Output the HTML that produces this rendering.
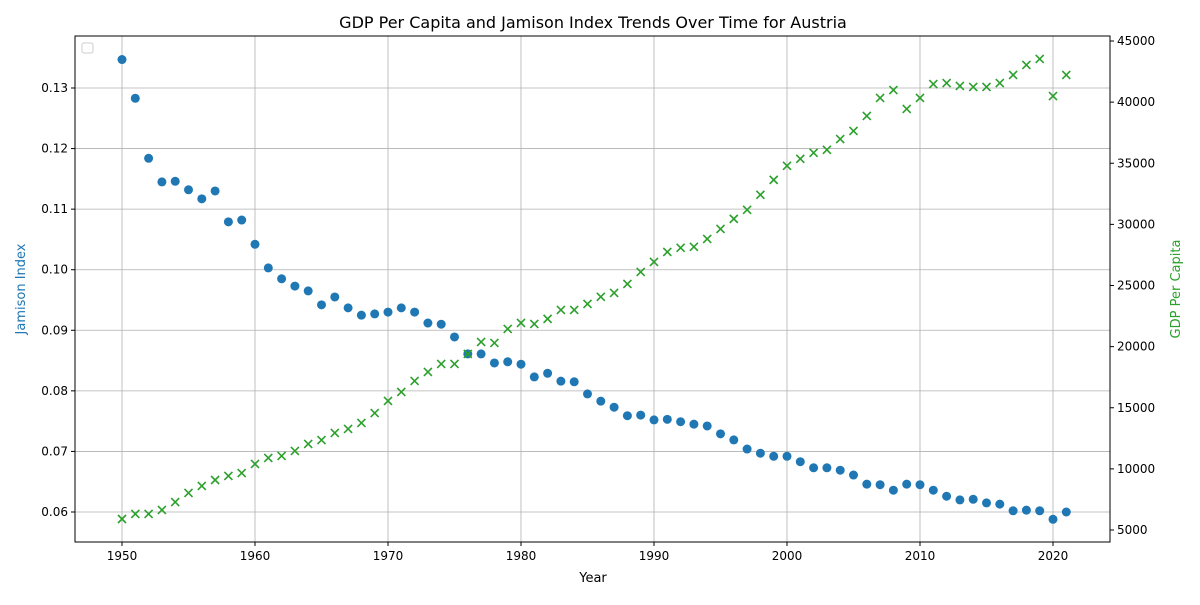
<!DOCTYPE html>
<html><head><meta charset="utf-8"><style>
body{margin:0;background:#fff;font-family:"Liberation Sans","DejaVu Sans",sans-serif;}
svg text{font-family:"DejaVu Sans","Liberation Sans",sans-serif;}
</style></head><body>
<svg id="chart" width="1200" height="600" xmlns="http://www.w3.org/2000/svg"></svg>
<script>
const years = [];
for (let y = 1950; y <= 2021; y++) years.push(y);
const jamison = [0.1347,0.1283,0.1184,0.1145,0.1146,0.1132,0.1117,0.1130,0.1079,0.1082,0.1042,0.1003,0.0985,0.0973,0.0965,0.0942,0.0955,0.0937,0.0925,0.0927,0.0930,0.0937,0.0930,0.0912,0.0910,0.0889,0.0861,0.0861,0.0846,0.0848,0.0844,0.0823,0.0829,0.0816,0.0815,0.0795,0.0783,0.0773,0.0759,0.0760,0.0752,0.0753,0.0749,0.0745,0.0742,0.0729,0.0719,0.0704,0.0697,0.0692,0.0692,0.0683,0.0673,0.0673,0.0669,0.0661,0.0646,0.0645,0.0636,0.0646,0.0645,0.0636,0.0626,0.0620,0.0621,0.0615,0.0613,0.0602,0.0603,0.0602,0.0588,0.0600];
const gdp = [5900,6310,6310,6640,7290,8030,8600,9090,9420,9660,10400,10890,11060,11470,12040,12360,12940,13270,13760,14570,15560,16290,17190,17930,18580,18580,19400,20380,20300,21450,21940,21860,22270,23000,23000,23490,24070,24390,25130,26110,26930,27750,28080,28160,28810,29630,30450,31190,32420,33640,34790,35360,35850,36100,36980,37640,38870,40340,40990,39440,40340,41480,41560,41320,41240,41240,41560,42220,43040,43530,40500,42220];
const xTicks = [1950,1960,1970,1980,1990,2000,2010,2020];
const leftTicks = [0.06,0.07,0.08,0.09,0.10,0.11,0.12,0.13];
const rightTicks = [5000,10000,15000,20000,25000,30000,35000,40000,45000];

const L=75,R=1110,T=36,B=542;
const xs = v => 122 + (v-1950)*(1053-122)/70;
const yl = v => 512 - (v-0.06)*(512-88)/0.07;
const yr = v => 530 - (v-5000)*(530-41)/40000;
const svg = document.getElementById('chart');
const NS='http://www.w3.org/2000/svg';
function el(tag, attrs, parent){const e=document.createElementNS(NS,tag);for(const k in attrs)e.setAttribute(k,attrs[k]);(parent||svg).appendChild(e);return e;}
function txt(s, attrs){const e=el('text',attrs);e.textContent=s;return e;}

// grid
xTicks.forEach(t=>{
  const g=el('line',{x1:xs(t),x2:xs(t),y1:T,y2:B,stroke:'#b0b0b0','stroke-width':0.8});
  
  
});
leftTicks.forEach(t=>{
  const g=el('line',{x1:L,x2:R,y1:yl(t),y2:yl(t),stroke:'#b0b0b0','stroke-width':0.8});
  
  
});

// jamison points
years.forEach((y,i)=>{
  const c=el('circle',{cx:xs(y),cy:yl(jamison[i]),r:4.5,fill:'#1f77b4'});
  
  
});
// gdp x markers
years.forEach((y,i)=>{
  const cx=xs(y), cy=yr(gdp[i]), d=4;
  const p=el('path',{d:`M${cx-d},${cy-d}L${cx+d},${cy+d}M${cx-d},${cy+d}L${cx+d},${cy-d}`,stroke:'#2ca02c','stroke-width':1.6,fill:'none'});
  
  
});

// frame
const fr=el('rect',{x:L,y:T,width:R-L,height:B-T,fill:'none',stroke:'#000','stroke-width':1});



// ticks
xTicks.forEach(t=>{
  el('line',{x1:xs(t),x2:xs(t),y1:B,y2:B+4,stroke:'#000'});
  const l=txt(t,{x:xs(t),y:B+18,'font-size':12,'text-anchor':'middle'});
  
  
});
leftTicks.forEach(t=>{
  el('line',{x1:L-4,x2:L,y1:yl(t),y2:yl(t),stroke:'#000'});
  const l=txt(t.toFixed(2),{x:L-7,y:yl(t)+4,'font-size':12,'text-anchor':'end'});
  
  
});
rightTicks.forEach(t=>{
  el('line',{x1:R,x2:R+4,y1:yr(t),y2:yr(t),stroke:'#000'});
  const l=txt(t,{x:R+7,y:yr(t)+4,'font-size':12,'text-anchor':'start'});
  
  
});
</script>
<svg width="1200" height="600" style="position:absolute;left:0;top:0" xmlns="http://www.w3.org/2000/svg">
<text x="593" y="28" font-size="16" text-anchor="middle">GDP Per Capita and Jamison Index Trends Over Time for Austria</text>
<text x="593" y="582" font-size="13" text-anchor="middle">Year</text>
<text transform="translate(25,289) rotate(-90)" font-size="13" fill="#1f77b4" text-anchor="middle">Jamison Index</text>
<text transform="translate(1180,289) rotate(-90)" font-size="13" fill="#2ca02c" text-anchor="middle">GDP Per Capita</text>
<rect x="82" y="43" width="11" height="10" rx="2" fill="#fff" stroke="#ccc"/>
</svg>
</body></html>
